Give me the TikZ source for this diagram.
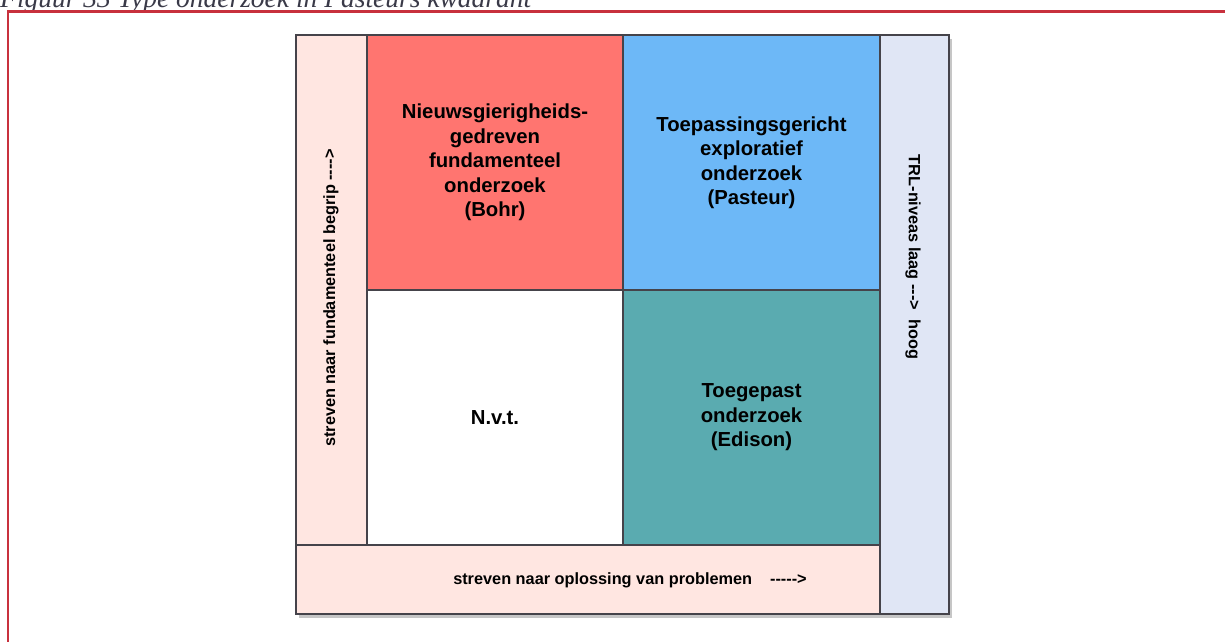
\documentclass[tikz,border=0pt]{standalone}
\usepackage{fontspec}
\setmainfont{Liberation Sans}
\newfontfamily\bijschrift{Liberation Serif}
\usetikzlibrary{shadows}
\definecolor{kaderrood}{HTML}{C8313D}
\definecolor{randgrijs}{HTML}{45434A}
\definecolor{roze}{HTML}{FFE6E1}
\definecolor{rood}{HTML}{FF7570}
\definecolor{blauw}{HTML}{6DB8F7}
\definecolor{teal}{HTML}{5AABB0}
\definecolor{lichtblauw}{HTML}{E0E6F5}
\definecolor{schrift}{HTML}{3A3A48}
\newcommand{\streep}{-\kern0pt}

\begin{document}
\begin{tikzpicture}[x=1pt,y=-1pt,
    vak/.style={draw=randgrijs,line width=1.2pt,inner sep=0pt,align=center,
      font=\fontsize{20.3}{24.5}\selectfont\bfseries},
    strook/.style={draw=randgrijs,line width=1.2pt,inner sep=0pt},
    strooktekst/.style={inner sep=0pt,font=\fontsize{16.3}{19}\selectfont\bfseries}]
      \useasboundingbox (0,0) rectangle (1225,641);
      % kader en bijschrift
      \node[anchor=base west,inner sep=0pt,font=\bijschrift\itshape\fontsize{27.5}{32}\selectfont,text=schrift] (bijschrift) at (0,7) {Figuur 33 Type onderzoek in Pasteurs kwadrant};
      \draw[kaderrood,line width=2.4pt] (8,645) -- (8,11.5) -- (1230,11.5);
      % schaduw
      \fill[white,drop shadow={shadow xshift=3pt,shadow yshift=-4pt,opacity=.45}] (296,35) rectangle (949,614);
      % stroken
      \node[strook,fill=roze,minimum width=71pt,minimum height=510pt] (links) at (331.5,290) {};
      \node[strook,fill=roze,minimum width=584pt,minimum height=69pt] (onder) at (588,579.5) {};
      \node[strook,fill=lichtblauw,minimum width=69pt,minimum height=579pt] (rechts) at (914.5,324.5) {};
      \node[strooktekst,rotate=90] (linkstekst) at (331,298) {streven naar fundamenteel begrip \streep\streep\streep\streep>};
      \node[strooktekst] (ondertekst) at (630,580) {streven naar oplossing van problemen\hspace{1.1em}\streep\streep\streep\streep\streep>};
      \node[strooktekst,rotate=-90] (rechtstekst) at (913,257) {TRL-niveas laag \streep\streep\streep>\ \ hoog};
      % kwadranten
      \node[vak,fill=rood,minimum width=256pt,minimum height=255pt] (bohr) at (495,162.5) {Nieuwsgierigheids-\\gedreven\\fundamenteel\\onderzoek\\(Bohr)};
      \node[vak,fill=blauw,minimum width=257pt,minimum height=255pt] (pasteur) at (751.5,162.5) {Toepassingsgericht\\exploratief\\onderzoek\\(Pasteur)};
      \node[vak,fill=white,minimum width=256pt,minimum height=255pt] (nvt) at (495,417.5) {N.v.t.};
      \node[vak,fill=teal,minimum width=257pt,minimum height=255pt] (edison) at (751.5,417.5) {Toegepast\\onderzoek\\(Edison)};
      % buitenrand
      \draw[randgrijs,line width=1.6pt] (links.north west) rectangle (rechts.south east);
\end{tikzpicture}
\end{document}
